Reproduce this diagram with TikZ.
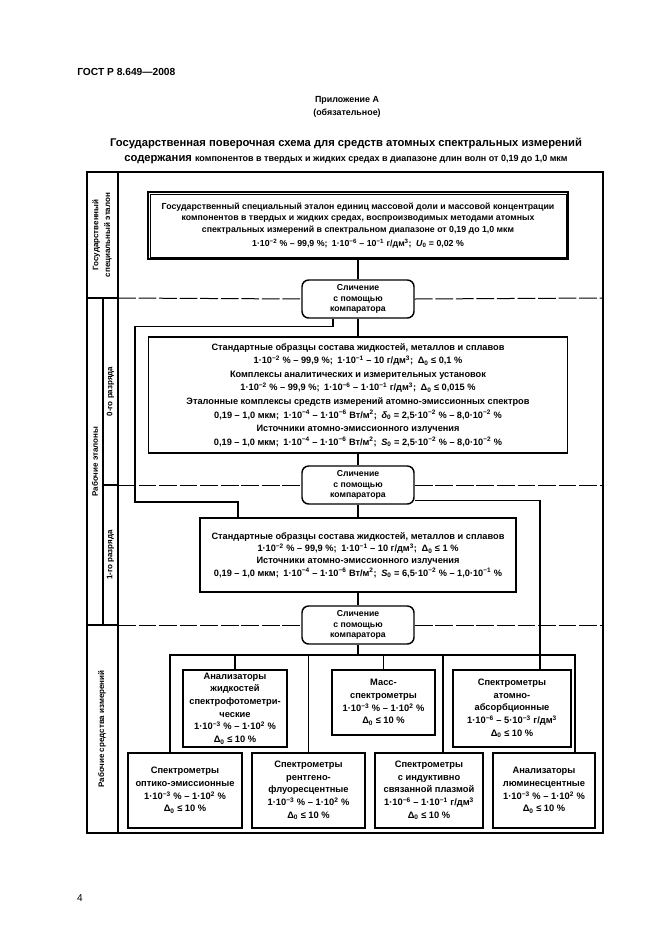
\documentclass[tikz,border=0pt]{standalone}
\usepackage{fontspec}
\setmainfont{Liberation Sans}
\usetikzlibrary{positioning}
\newcommand\pw[1]{\textsuperscript{#1}}
\newcommand\sbs[1]{\textsubscript{#1}}

\begin{document}
\begin{tikzpicture}[x=0.9pt,y=-0.9pt,
  every node/.style={font=\bfseries\fontsize{8.4}{11.4}\selectfont, align=center, inner sep=1pt},
  frame/.style={line width=1.3pt},
  sep/.style={line width=0.9pt, dash pattern=on 16pt off 2.5pt},
  link/.style={line width=1.3pt},
  sz/.style 2 args={minimum width=#1*0.9pt, minimum height=#2*0.9pt},
  stdbox/.style={draw, line width=1.8pt, fill=white, font=\bfseries\fontsize{7.9}{10.5}\selectfont},
  rankbox/.style={draw, line width=1.3pt, fill=white},
  cmpbox/.style={draw, line width=1.3pt, rounded corners=6pt, fill=white, sz={112}{38}, font=\bfseries\fontsize{7.8}{9.5}\selectfont},
  topbox/.style={draw, line width=2pt, fill=white},
  lowbox/.style={draw, line width=1.3pt, fill=white},
  side/.style={rotate=90, font=\bfseries\fontsize{7.2}{10.5}\selectfont}
]
\useasboundingbox (0,0) rectangle (661,936);
\node[anchor=west, font=\bfseries\fontsize{9.2}{11}\selectfont] (gost) at (76,72) {ГОСТ Р 8.649—2008};
\node[font=\bfseries\fontsize{8}{11.7}\selectfont] (annex) at (347,106.5) {Приложение А\\(обязательное)};
\node[font=\bfseries\fontsize{10.1}{13.5}\selectfont] (title) at (346,150.5) {Государственная поверочная схема для средств атомных спектральных измерений\\содержания {\fontsize{8.1}{13.5}\selectfont компонентов в твердых и жидких средах в диапазоне длин волн от 0,19 до 1,0 мкм}};
\node[font=\mdseries\fontsize{9}{11}\selectfont] (page) at (80,898) {4};

\draw[frame] (87,172) rectangle (603,833);
\draw[frame] (118,172) -- (118,833);
\draw[frame] (87,298) -- (118,298) (87,625) -- (118,625) (103,298) -- (103,625) (103,485) -- (118,485);

\node[side] (lstate) at (102,235) {Государственный\\специальный эталон};
\node[side] (lwork) at (95,461.5) {Рабочие эталоны};
\node[side] (lzero) at (110.5,391.5) {0-го разряда};
\node[side] (lfirst) at (110.5,555) {1-го разряда};
\node[side] (linst) at (102,729) {Рабочие средства измерений};

\node[stdbox, sz={420}{67}] (std) at (358,225.5) {Государственный специальный эталон единиц массовой доли и массовой концентрации\\компонентов в твердых и жидких средах, воспроизводимых методами атомных\\спектральных измерений в спектральном диапазоне от 0,19 до 1,0 мкм\\[2pt]1·10\pw{−2} \% – 99,9 \%;\enspace 1·10\pw{−6} – 10\pw{−1} г/дм\pw{3};\enspace \textit{U}\sbs{0} = 0,02 \%};
\draw[line width=0.6pt] ([shift={(3,3)}]std.north west) rectangle ([shift={(-3,-3)}]std.south east);
\node[cmpbox] (cmp1) at (358,299) {Сличение\\с помощью\\компаратора};
\node[rankbox, sz={419}{116}, font=\bfseries\fontsize{8.3}{12.2}\selectfont] (zero) at (358,395) {Стандартные образцы состава жидкостей, металлов и сплавов\\1·10\pw{−2} \% – 99,9 \%;\enspace 1·10\pw{−1} – 10 г/дм\pw{3};\enspace Δ\sbs{0} ≤ 0,1 \%\\Комплексы аналитических и измерительных установок\\1·10\pw{−2} \% – 99,9 \%;\enspace 1·10\pw{−6} – 1·10\pw{−1} г/дм\pw{3};\enspace Δ\sbs{0} ≤ 0,015 \%\\Эталонные комплексы средств измерений атомно-эмиссионных спектров\\0,19 – 1,0 мкм;\enspace 1·10\pw{−4} – 1·10\pw{−6} Вт/м\pw{2};\enspace \textit{δ}\sbs{0} = 2,5·10\pw{−2} \% – 8,0·10\pw{−2} \%\\Источники атомно-эмиссионного излучения\\0,19 – 1,0 мкм;\enspace 1·10\pw{−4} – 1·10\pw{−6} Вт/м\pw{2};\enspace \textit{S}\sbs{0} = 2,5·10\pw{−2} \% – 8,0·10\pw{−2} \%};
\node[cmpbox] (cmp2) at (358,485) {Сличение\\с помощью\\компаратора};
\node[rankbox, sz={316}{74}, font=\bfseries\fontsize{8.3}{11}\selectfont] (first) at (358,555) {Стандартные образцы состава жидкостей, металлов и сплавов\\1·10\pw{−2} \% – 99,9 \%;\enspace 1·10\pw{−1} – 10 г/дм\pw{3};\enspace Δ\sbs{0} ≤ 1 \%\\Источники атомно-эмиссионного излучения\\0,19 – 1,0 мкм;\enspace 1·10\pw{−4} – 1·10\pw{−6} Вт/м\pw{2};\enspace \textit{S}\sbs{0} = 6,5·10\pw{−2} \% – 1,0·10\pw{−1} \%};
\node[cmpbox] (cmp3) at (358,625) {Сличение\\с помощью\\компаратора};

\node[topbox, sz={104}{77}] (spf) at (235,708.5) {Анализаторы\\жидкостей\\спектрофотометри-\\ческие\\1·10\pw{−3} \% – 1·10\pw{2} \%\\Δ\sbs{0} ≤ 10 \%};
\node[topbox, sz={103}{65}] (mass) at (383.5,702.5) {Масс-\\спектрометры\\1·10\pw{−3} \% – 1·10\pw{2} \%\\Δ\sbs{0} ≤ 10 \%};
\node[topbox, sz={118}{77}] (aas) at (512,708.5) {Спектрометры\\атомно-\\абсорбционные\\1·10\pw{−6} – 5·10\pw{−3} г/дм\pw{3}\\Δ\sbs{0} ≤ 10 \%};
\node[lowbox, sz={114}{75}] (oes) at (185,790.5) {Спектрометры\\оптико-эмиссионные\\1·10\pw{−3} \% – 1·10\pw{2} \%\\Δ\sbs{0} ≤ 10 \%};
\node[lowbox, sz={113}{75}] (xrf) at (308.5,790.5) {Спектрометры\\рентгено-\\флуоресцентные\\1·10\pw{−3} \% – 1·10\pw{2} \%\\Δ\sbs{0} ≤ 10 \%};
\node[lowbox, sz={108}{75}] (icp) at (429,790.5) {Спектрометры\\с индуктивно\\связанной плазмой\\1·10\pw{−6} – 1·10\pw{−1} г/дм\pw{3}\\Δ\sbs{0} ≤ 10 \%};
\node[lowbox, sz={102}{75}] (lum) at (544,790.5) {Анализаторы\\люминесцентные\\1·10\pw{−3} \% – 1·10\pw{2} \%\\Δ\sbs{0} ≤ 10 \%};

\draw[sep] (118,298) -- (cmp1.west) (cmp1.east) -- (603,298);
\draw[sep] (118,485) -- (cmp2.west) (cmp2.east) -- (603,485);
\draw[sep] (118,625) -- (cmp3.west) (cmp3.east) -- (603,625);

\draw[link] (std) -- (cmp1);
\draw[link] (cmp1) -- (zero);
\draw[link] (zero) -- (cmp2);
\draw[link] (cmp2) -- (first);
\draw[link] (first) -- (cmp3);
\draw[link] ([xshift=-22.5pt]cmp1.south) -- ++(0,8) -| (135,502) -| ([xshift=-108pt]first.north);
\draw[link] ([yshift=3.6pt]cmp2.south east) -| ([xshift=25.2pt]aas.north);
\coordinate (bus) at (358,655);
\draw[link] (cmp3) -- (bus);
\draw[link] ([xshift=-13.5pt]oes.north) |- (bus) -| ([xshift=27.9pt]lum.north);
\draw[link] (xrf.north) -- (xrf.north |- bus);
\draw[link] ([xshift=12.6pt]icp.north) -- ([xshift=12.6pt]icp.north |- bus);
\draw[link] (spf.north) -- (spf.north |- bus);
\draw[link] (mass.north) -- (mass.north |- bus);
\end{tikzpicture}
\end{document}
